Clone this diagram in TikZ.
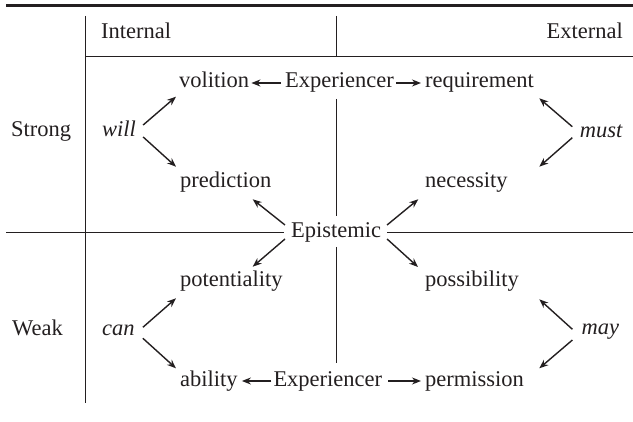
\documentclass[tikz,border=0pt]{standalone}
\usepackage{fontspec}
\setmainfont{Liberation Serif}
\usetikzlibrary{arrows.meta}
\definecolor{ink}{RGB}{35,31,32}
\begin{document}
\begin{tikzpicture}[x=1pt,y=-1pt,
  every node/.style={inner sep=0pt,text=ink,font=\fontsize{22.5}{26}\selectfont},
  lw/.style={anchor=base west},
  le/.style={anchor=base east},
  rule/.style={draw=ink,line width=0.9pt},
  arr/.style={draw=ink,line width=1.4pt,-{Stealth[length=9pt,width=7pt]}}]
\useasboundingbox (0,0) rectangle (633,422);

% table rules
\draw[draw=ink,line width=2.7pt] (6,5.3) -- (633,5.3);
\draw[rule] (85,16) -- (85,403);
\draw[rule] (85,56) -- (633,56);
\draw[rule] (336,16) -- (336,56);
\draw[rule] (336,99) -- (336,216);
\draw[rule] (336,247) -- (336,363);
\draw[rule] (6,232.5) -- (284,232.5);
\draw[rule] (387,232.5) -- (633,232.5);

% headers
\node[lw] (internal) at (101,39) {Internal};
\node[le] (external) at (623,39) {External};
\node[lw] (strong) at (11,137) {Strong};
\node[lw] (weak) at (12,336) {Weak};

% modals
\node[lw] (will) at (102,137) {\itshape will};
\node[lw] (can) at (102,336) {\itshape can};
\node[le] (must) at (622.7,138) {\itshape must};
\node[le] (may) at (619.3,335) {\itshape may};

% meanings
\node[lw] (volition) at (179,88) {volition};
\node[lw] (expTop) at (285,88) {Experiencer};
\node[lw] (requirement) at (425,88) {requirement};
\node[lw] (prediction) at (180,188) {prediction};
\node[lw] (necessity) at (425,188) {necessity};
\node[lw] (epistemic) at (291,238) {Epistemic};
\node[lw] (potentiality) at (180,287) {potentiality};
\node[lw] (possibility) at (425,287) {possibility};
\node[lw] (ability) at (180,387) {ability};
\node[lw] (expBot) at (273.3,387) {Experiencer};
\node[lw] (permission) at (425,387) {permission};

% experiencer arrows
\draw[arr] ([shift={(-4pt,5pt)}]expTop.base west) -- ([shift={(2pt,5pt)}]volition.base east);
\draw[arr] ([shift={(2pt,5pt)}]expTop.base east) -- ([shift={(-4pt,5pt)}]requirement.base west);
\draw[arr] ([shift={(-2pt,6pt)}]expBot.base west) -- ([shift={(4pt,6pt)}]ability.base east);
\draw[arr] ([shift={(6pt,6pt)}]expBot.base east) -- ([shift={(-4pt,6pt)}]permission.base west);

% will / can
\draw[arr] ([shift={(7pt,12pt)}]will.base east) -- ([shift={(-3pt,-8.7pt)}]volition.base west);
\draw[arr] ([shift={(7pt,0pt)}]will.base east) -- ([shift={(-4pt,21.3pt)}]prediction.base west);
\draw[arr] ([shift={(8pt,8.7pt)}]can.base east) -- ([shift={(-4pt,-11.3pt)}]potentiality.base west);
\draw[arr] ([shift={(8pt,-2.3pt)}]can.base east) -- ([shift={(-4pt,18.7pt)}]ability.base west);

% must / may
\draw[arr] ([shift={(-7.5pt,11.3pt)}]must.base west) -- ([shift={(114.3pt,-10.3pt)}]requirement.base west);
\draw[arr] ([shift={(-7.5pt,0.3pt)}]must.base west) -- ([shift={(114.3pt,21.3pt)}]necessity.base west);
\draw[arr] ([shift={(-9pt,5.7pt)}]may.base west) -- ([shift={(114.3pt,-12.3pt)}]possibility.base west);
\draw[arr] ([shift={(-9pt,-5pt)}]may.base west) -- ([shift={(114.3pt,18.7pt)}]permission.base west);

% epistemic
\draw[arr] ([shift={(-6pt,13pt)}]epistemic.base west) -- ([shift={(72.7pt,-11.3pt)}]prediction.base west);
\draw[arr] ([shift={(-6pt,-1pt)}]epistemic.base west) -- ([shift={(72.7pt,20.3pt)}]potentiality.base west);
\draw[arr] ([shift={(5.7pt,13pt)}]epistemic.base east) -- ([shift={(-6.7pt,-11.3pt)}]necessity.base west);
\draw[arr] ([shift={(5.7pt,-1pt)}]epistemic.base east) -- ([shift={(-7pt,20pt)}]possibility.base west);
\end{tikzpicture}
\end{document}
